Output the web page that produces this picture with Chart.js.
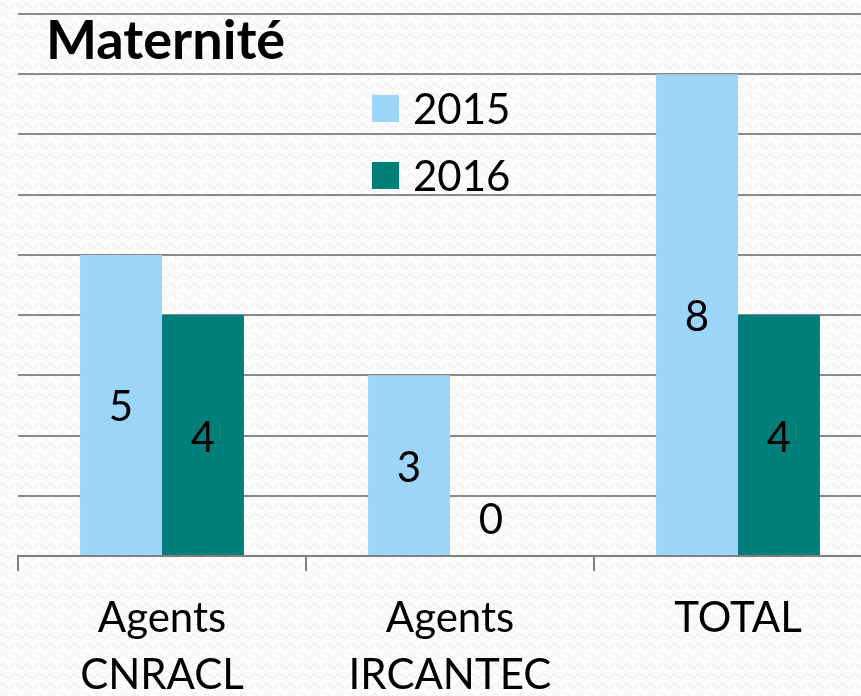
<!DOCTYPE html>
<html>
<head>
<meta charset="utf-8">
<script src="https://cdn.jsdelivr.net/npm/chart.js@4"></script>
<style>
  html, body { margin: 0; padding: 0; overflow: hidden; }
  body {
    width: 861px; height: 696px;
    background-color: #fcfcfc;
    background-image: url("data:image/svg+xml;utf8,<svg xmlns='http://www.w3.org/2000/svg' width='12' height='10'><path d='M0 6 Q3 1 6 6 T12 6' fill='none' stroke='%23ececec' stroke-width='1.2'/></svg>");
  }
  #wrap { width: 900px; height: 696px; }
</style>
</head>
<body>
<div id="wrap"><canvas id="myChart" width="900" height="696"></canvas></div>
<script>
const categories = [['Agents', 'CNRACL'], ['Agents', 'IRCANTEC'], 'TOTAL'];
const values2015 = [5, 3, 8];
const values2016 = [4, 0, 4];
const seriesNames = ['2015', '2016'];
const colors = ['#9dd5f9', '#007f7a'];

const FONT = 'Lato, "Open Sans", sans-serif';

// title + legend sit on top of the plot like in the original slide
const overlay = {
    id: 'overlay',
    afterDraw(chart) {
        const c = chart.ctx;
        c.save();
        c.fillStyle = '#000';
        c.textBaseline = 'alphabetic';
        c.textAlign = 'left';
        c.font = 'bold 54px ' + FONT;
        c.fillText('Maternité', 46, 59);

        c.font = '42px ' + FONT;
        c.textBaseline = 'middle';
        const rows = [108, 175];
        chart.data.datasets.forEach((ds, i) => {
            c.fillStyle = ds.backgroundColor;
            c.fillRect(372, rows[i] - 13, 27, 27);
            c.fillStyle = '#000';
            c.fillText(ds.label, 413, rows[i] + 2);
        });
        c.restore();
    }
};

const valueLabels = {
    id: 'valueLabels',
    afterDatasetsDraw(chart) {
        const c = chart.ctx;
        c.save();
        c.font = '42px ' + FONT;
        c.fillStyle = '#000';
        c.textAlign = 'center';
        c.textBaseline = 'middle';
        chart.data.datasets.forEach((ds, i) => {
            chart.getDatasetMeta(i).data.forEach((bar, j) => {
                const v = ds.data[j];
                const y = v === 0 ? bar.base - 36 : (bar.y + bar.base) / 2 + 3;
                c.fillText(String(v), bar.x, y);
            });
        });
        c.restore();
    }
};

const data = {
    labels: categories,
    datasets: [
        { label: seriesNames[0], data: values2015, backgroundColor: colors[0] },
        { label: seriesNames[1], data: values2016, backgroundColor: colors[1] }
    ]
};

const ctx = document.getElementById('myChart').getContext('2d');
const myChart = new Chart(ctx, {
    type: 'bar',
    data: data,
    options: {
        responsive: false,
        animation: false,
        layout: { padding: { top: 14, right: 18, left: 0, bottom: 0 } },
        datasets: { bar: { categoryPercentage: 0.569, barPercentage: 1 } },
        plugins: {
            legend: { display: false },
            tooltip: { enabled: false }
        },
        scales: {
            x: {
                grid: {
                    offset: true,
                    drawOnChartArea: false,
                    drawTicks: true,
                    tickLength: 15,
                    color: '#7f7f7f',
                    lineWidth: 2
                },
                border: { display: true, color: '#7f7f7f', width: 2 },
                ticks: {
                    color: '#000',
                    padding: 18,
                    maxRotation: 0,
                    font: { family: FONT, size: 42, lineHeight: 1.38 }
                },
                afterFit(scale) { scale.height = 140; }
            },
            y: {
                min: 0,
                max: 9,
                ticks: { display: false, stepSize: 1 },
                grid: { color: '#8a8a8a', lineWidth: 2, drawTicks: false },
                border: { display: false },
                afterFit(scale) { scale.width = 18; }
            }
        }
    },
    plugins: [valueLabels, overlay]
});
</script>
</body>
</html>
